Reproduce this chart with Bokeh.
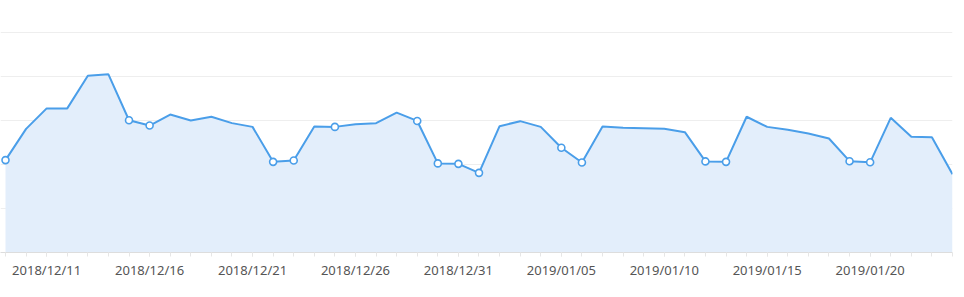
from datetime import date, timedelta
from bokeh.plotting import figure
from bokeh.models import Range1d, FixedTicker, ColumnDataSource
from bokeh.embed import file_html
from bokeh.resources import INLINE

start = date(2018, 12, 9)
dates = [(start + timedelta(days=i)).strftime("%Y/%m/%d") for i in range(47)]

values = [42.0, 56.2, 65.5, 65.5, 80.3, 81.0, 60.1, 57.7, 62.7, 60.0,
          61.7, 58.8, 57.1, 41.2, 41.8, 57.3, 57.1, 58.3, 58.8, 63.6,
          59.8, 40.5, 40.3, 36.2, 57.4, 59.7, 57.1, 47.6, 40.9, 57.3,
          56.7, 56.5, 56.2, 54.7, 41.4, 41.2, 61.7, 57.1, 55.8, 54.1,
          51.8, 41.5, 41.0, 61.2, 52.6, 52.4, 35.6]

marked = [0, 6, 7, 13, 14, 16, 20, 21, 22, 23, 27, 28, 34, 35, 41, 42]

y_ticks = [0, 20, 40, 60, 80, 100]

idx = list(range(len(dates)))
src = ColumnDataSource(dict(x=idx, y=values))
msrc = ColumnDataSource(dict(x=marked, y=[values[i] for i in marked]))

LINE = "#4a9ee9"
FILL = "#e3eefb"

p = figure(width=964, height=297, output_backend="svg", toolbar_location=None,
           x_range=Range1d(-5 / 20.59, 46), y_range=Range1d(0, 252 / 2.2),
           min_border_left=0, min_border_right=12, min_border_top=0,
           min_border_bottom=45)
p.outline_line_color = None
p.background_fill_color = "white"

p.varea(x="x", y1=0, y2="y", source=src, fill_color=FILL, fill_alpha=1)
p.line(x="x", y="y", source=src, line_color=LINE, line_width=2)
p.scatter(x="x", y="y", source=msrc, size=7, fill_color="white",
          line_color=LINE, line_width=1.6)

p.yaxis.visible = False
p.ygrid.ticker = FixedTicker(ticks=y_ticks)
p.ygrid.grid_line_color = "#eeeeee"
p.xgrid.visible = False

major = [i for i in idx if i % 5 == 2]
p.xaxis.ticker = FixedTicker(ticks=major, minor_ticks=idx)
p.xaxis.major_label_overrides = {i: dates[i] for i in major}
p.xaxis.axis_line_color = "#dddddd"
p.xaxis.major_tick_line_color = "#e6e6e6"
p.xaxis.minor_tick_line_color = "#e6e6e6"
p.xaxis.major_tick_in = 0
p.xaxis.major_tick_out = 4
p.xaxis.minor_tick_in = 0
p.xaxis.minor_tick_out = 4
p.xaxis.major_label_standoff = 4
p.xaxis.major_label_text_font = "Noto Sans"
p.xaxis.major_label_text_font_size = "13px"
p.xaxis.major_label_text_color = "#555555"

open("out.html", "w").write(file_html(p, INLINE))
